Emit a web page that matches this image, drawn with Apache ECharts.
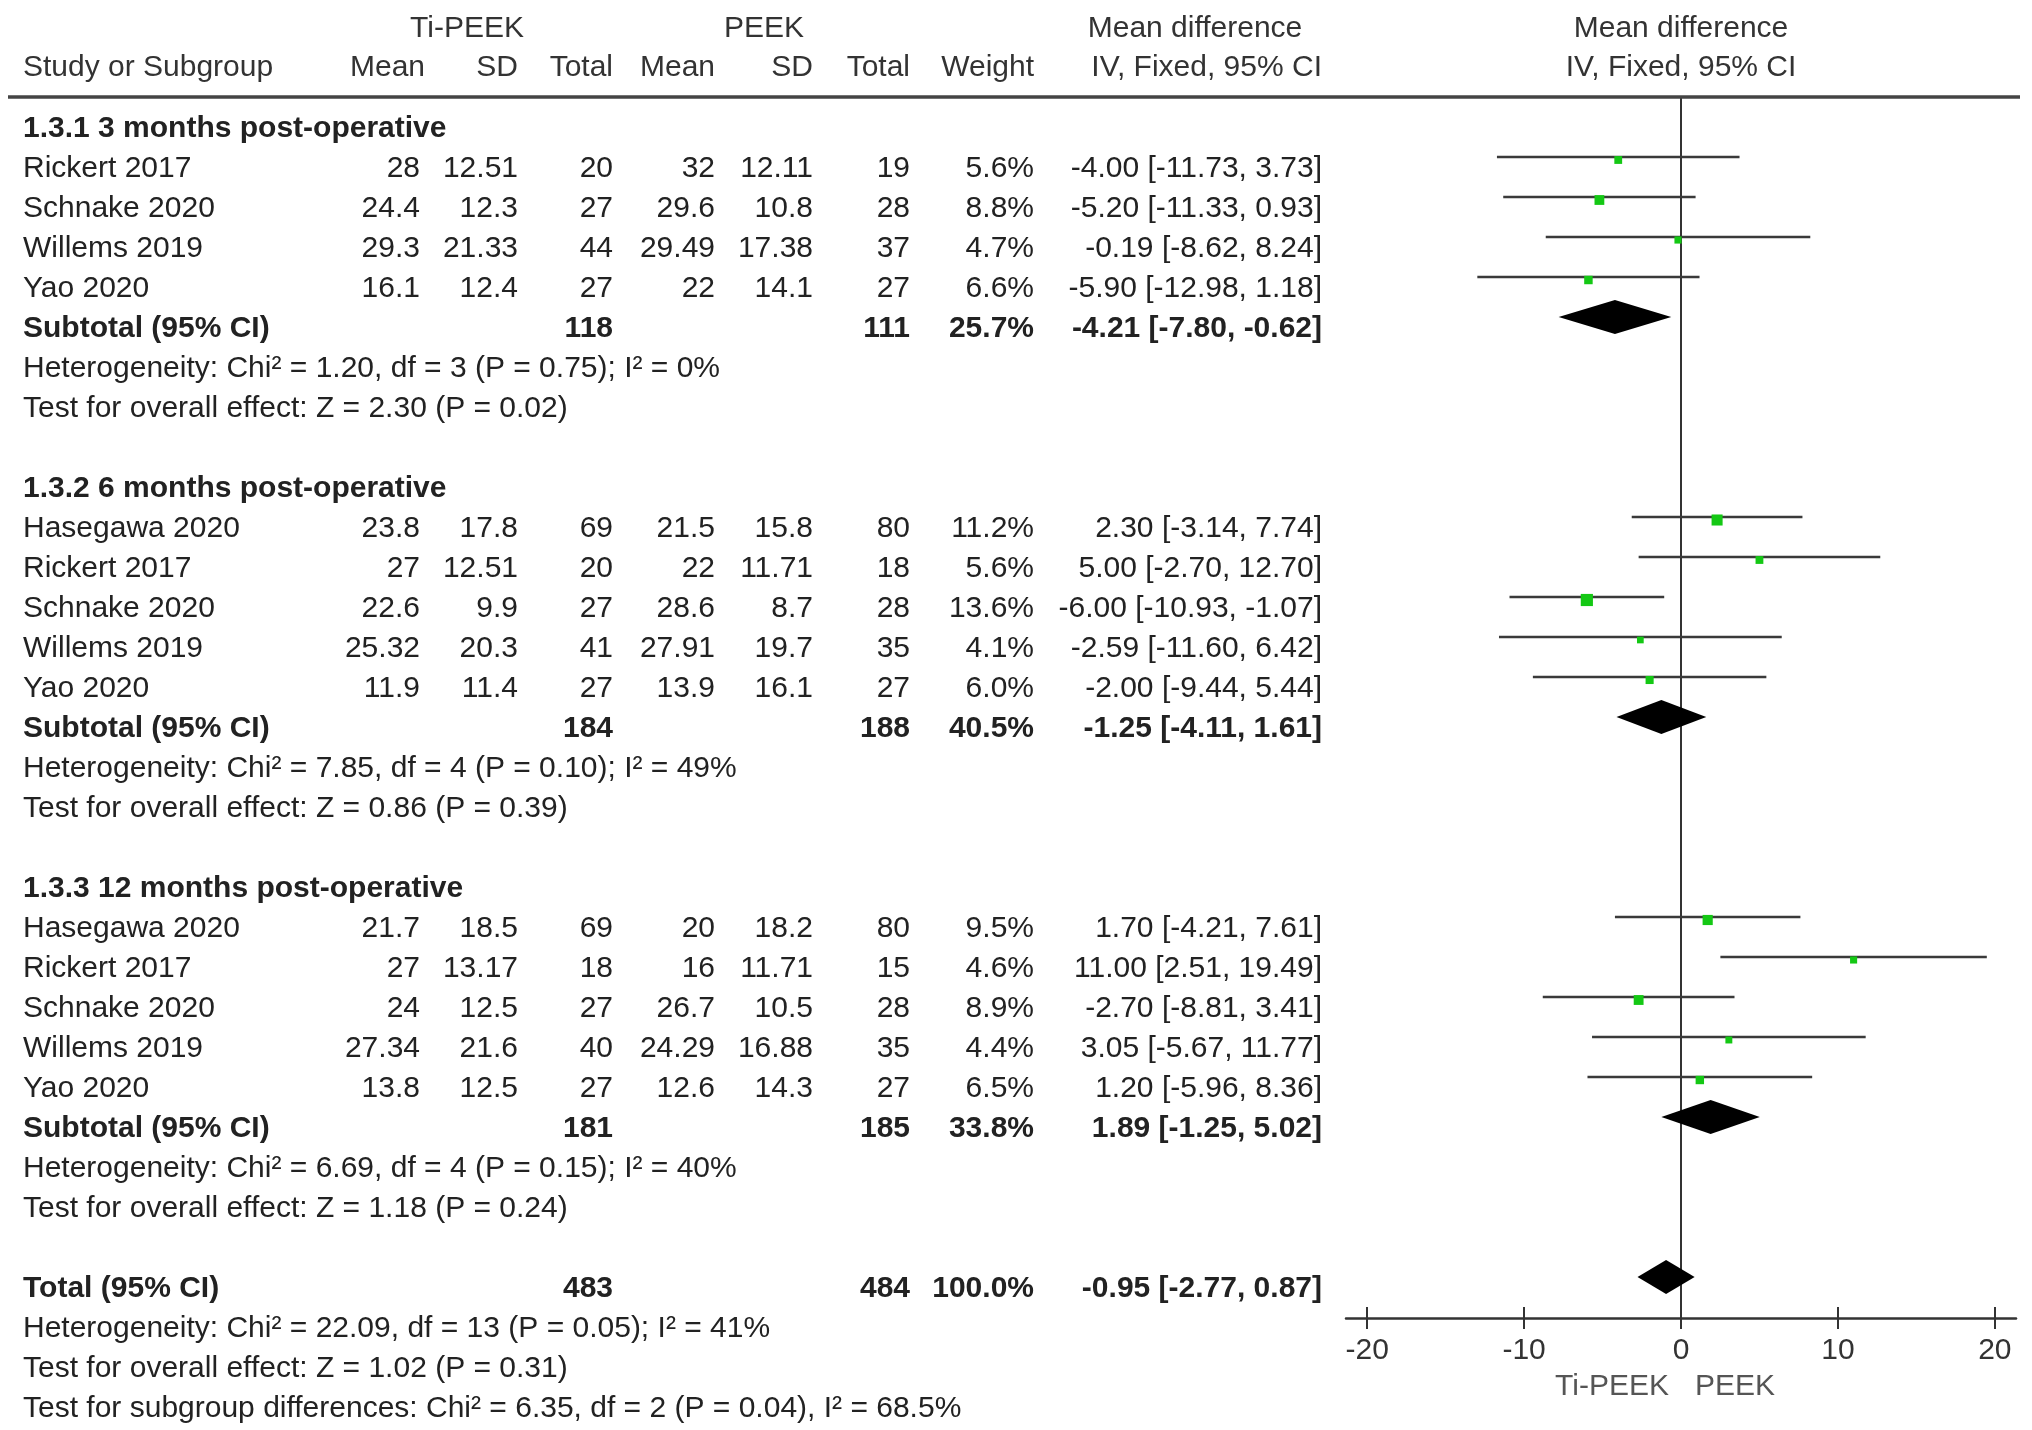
<!DOCTYPE html>
<html><head><meta charset="utf-8">
<script src="https://cdn.jsdelivr.net/npm/echarts@6/dist/echarts.min.js"></script>
<style>html,body{margin:0;padding:0;background:#fff}#c{width:2032px;height:1430px}</style>
</head><body><div id="c"></div>
<script>
// ---------------- DATA ----------------
const groupTitles = ['1.3.1 3 months post-operative', '1.3.2 6 months post-operative', '1.3.3 12 months post-operative'];
const studyGroup = [0,0,0,0, 1,1,1,1,1, 2,2,2,2,2];
const studyNames = ['Rickert 2017','Schnake 2020','Willems 2019','Yao 2020',
  'Hasegawa 2020','Rickert 2017','Schnake 2020','Willems 2019','Yao 2020',
  'Hasegawa 2020','Rickert 2017','Schnake 2020','Willems 2019','Yao 2020'];
const tiMean   = [28, 24.4, 29.3, 16.1,   23.8, 27, 22.6, 25.32, 11.9,   21.7, 27, 24, 27.34, 13.8];
const tiSD     = [12.51, 12.3, 21.33, 12.4, 17.8, 12.51, 9.9, 20.3, 11.4, 18.5, 13.17, 12.5, 21.6, 12.5];
const tiTotal  = [20, 27, 44, 27,  69, 20, 27, 41, 27,  69, 18, 27, 40, 27];
const peekMean = [32, 29.6, 29.49, 22,  21.5, 22, 28.6, 27.91, 13.9,  20, 16, 26.7, 24.29, 12.6];
const peekSD   = [12.11, 10.8, 17.38, 14.1, 15.8, 11.71, 8.7, 19.7, 16.1, 18.2, 11.71, 10.5, 16.88, 14.3];
const peekTotal= [19, 28, 37, 27,  80, 18, 28, 35, 27,  80, 15, 28, 35, 27];
const weight   = [5.6, 8.8, 4.7, 6.6,  11.2, 5.6, 13.6, 4.1, 6.0,  9.5, 4.6, 8.9, 4.4, 6.5];
const meanDiff = [-4.00, -5.20, -0.19, -5.90,  2.30, 5.00, -6.00, -2.59, -2.00,  1.70, 11.00, -2.70, 3.05, 1.20];
const ciLow    = [-11.73, -11.33, -8.62, -12.98,  -3.14, -2.70, -10.93, -11.60, -9.44,  -4.21, 2.51, -8.81, -5.67, -5.96];
const ciHigh   = [3.73, 0.93, 8.24, 1.18,  7.74, 12.70, -1.07, 6.42, 5.44,  7.61, 19.49, 3.41, 11.77, 8.36];

const subTiTotal   = [118, 184, 181];
const subPeekTotal = [111, 188, 185];
const subWeight    = [25.7, 40.5, 33.8];
const subMeanDiff  = [-4.21, -1.25, 1.89];
const subCiLow     = [-7.80, -4.11, -1.25];
const subCiHigh    = [-0.62, 1.61, 5.02];
const subHetText   = ['Heterogeneity: Chi\u00b2 = 1.20, df = 3 (P = 0.75); I\u00b2 = 0%',
                      'Heterogeneity: Chi\u00b2 = 7.85, df = 4 (P = 0.10); I\u00b2 = 49%',
                      'Heterogeneity: Chi\u00b2 = 6.69, df = 4 (P = 0.15); I\u00b2 = 40%'];
const subTestText  = ['Test for overall effect: Z = 2.30 (P = 0.02)',
                      'Test for overall effect: Z = 0.86 (P = 0.39)',
                      'Test for overall effect: Z = 1.18 (P = 0.24)'];

const totalTi = 483, totalPeek = 484, totalWeight = 100.0;
const totalMeanDiff = -0.95, totalCiLow = -2.77, totalCiHigh = 0.87;
const totalHetText = 'Heterogeneity: Chi\u00b2 = 22.09, df = 13 (P = 0.05); I\u00b2 = 41%';
const totalTestText = 'Test for overall effect: Z = 1.02 (P = 0.31)';
const subgroupText = 'Test for subgroup differences: Chi\u00b2 = 6.35, df = 2 (P = 0.04), I\u00b2 = 68.5%';

const xTicks = [-20, -10, 0, 10, 20];
const favourLeft = 'Ti-PEEK', favourRight = 'PEEK';

// ---------------- LAYOUT ----------------
const COL = { name: 23, tiMean: 420, tiSD: 518, tiTotal: 613, pMean: 715, pSD: 813, pTotal: 910, weight: 1034, ci: 1322,
  hTi: 467, hPeek: 764, hMD: 1195, hPlot: 1681, hTiMean: 425 };
const FS = 30;
const TXT = '#222';
const TEXT_DY = 0.075;
const texts = [];
const forest = [];
function T(x, line, text, align, bold, color, size) {
  texts.push({ x, line: line + TEXT_DY, text: String(text), align: align || 'right', bold: !!bold, color: color || TXT, size: size || FS });
}
const f2 = v => v.toFixed(2);
const ciStr = (m, l, h) => f2(m) + ' [' + f2(l) + ', ' + f2(h) + ']';

// headers
T(COL.hTi, -2.5, 'Ti-PEEK', 'center', false, '#333');
T(COL.hPeek, -2.5, 'PEEK', 'center', false, '#333');
T(COL.hMD, -2.5, 'Mean difference', 'center', false, '#333');
T(COL.hPlot, -2.5, 'Mean difference', 'center', false, '#333');
const H2 = -1.525;
T(COL.name, H2, 'Study or Subgroup', 'left', false, '#333');
T(COL.hTiMean, H2, 'Mean', 'right', false, '#333');
T(COL.tiSD, H2, 'SD', 'right', false, '#333');
T(COL.tiTotal, H2, 'Total', 'right', false, '#333');
T(COL.pMean, H2, 'Mean', 'right', false, '#333');
T(COL.pSD, H2, 'SD', 'right', false, '#333');
T(COL.pTotal, H2, 'Total', 'right', false, '#333');
T(COL.weight, H2, 'Weight', 'right', false, '#333');
T(COL.ci, H2, 'IV, Fixed, 95% CI', 'right', false, '#333');
T(COL.hPlot, H2, 'IV, Fixed, 95% CI', 'center', false, '#333');

let line = 0;
groupTitles.forEach((title, g) => {
  T(COL.name, line++, title, 'left', true);
  studyNames.forEach((nm, i) => {
    if (studyGroup[i] !== g) return;
    T(COL.name, line, nm, 'left');
    T(COL.tiMean, line, tiMean[i]);
    T(COL.tiSD, line, tiSD[i]);
    T(COL.tiTotal, line, tiTotal[i]);
    T(COL.pMean, line, peekMean[i]);
    T(COL.pSD, line, peekSD[i]);
    T(COL.pTotal, line, peekTotal[i]);
    T(COL.weight, line, weight[i].toFixed(1) + '%');
    T(COL.ci, line, ciStr(meanDiff[i], ciLow[i], ciHigh[i]));
    forest.push({ kind: 'study', line, md: meanDiff[i], lo: ciLow[i], hi: ciHigh[i], w: weight[i] });
    line++;
  });
  T(COL.name, line, 'Subtotal (95% CI)', 'left', true);
  T(COL.tiTotal, line, subTiTotal[g], 'right', true);
  T(COL.pTotal, line, subPeekTotal[g], 'right', true);
  T(COL.weight, line, subWeight[g].toFixed(1) + '%', 'right', true);
  T(COL.ci, line, ciStr(subMeanDiff[g], subCiLow[g], subCiHigh[g]), 'right', true);
  forest.push({ kind: 'diamond', line, md: subMeanDiff[g], lo: subCiLow[g], hi: subCiHigh[g] });
  line++;
  T(COL.name, line++, subHetText[g], 'left');
  T(COL.name, line++, subTestText[g], 'left');
  line++;
});
T(COL.name, line, 'Total (95% CI)', 'left', true);
T(COL.tiTotal, line, totalTi, 'right', true);
T(COL.pTotal, line, totalPeek, 'right', true);
T(COL.weight, line, totalWeight.toFixed(1) + '%', 'right', true);
T(COL.ci, line, ciStr(totalMeanDiff, totalCiLow, totalCiHigh), 'right', true);
forest.push({ kind: 'diamond', line, md: totalMeanDiff, lo: totalCiLow, hi: totalCiHigh });
line++;
T(COL.name, line++, totalHetText, 'left');
T(COL.name, line++, totalTestText, 'left');
T(COL.name, line, subgroupText, 'left');
T(1669, 31.45, favourLeft, 'right', false, '#555');
T(1695, 31.45, favourRight, 'left', false, '#555');

const FONT = '"Liberation Sans", Arial, Helvetica, sans-serif';
const PLOT_DY = -0.225, SQ_DY = -0.15;

const chart = echarts.init(document.getElementById('c'), null, { renderer: 'canvas' });
chart.setOption({
  backgroundColor: '#fff',
  animation: false,
  grid: [
    { left: 0, top: 0, width: 2032, height: 1430 },
    { left: 1346, top: 97, width: 670, height: 1221 }
  ],
  xAxis: [
    { gridIndex: 0, type: 'value', min: 0, max: 2032, show: false },
    { gridIndex: 1, type: 'value', min: -21.35, max: 21.35, position: 'bottom',
      axisLine: { show: true, onZero: false, lineStyle: { color: '#333', width: 2.5 } },
      axisTick: { show: true, customValues: xTicks, length: 11, lineStyle: { color: '#333', width: 2 } },
      axisLabel: { show: true, customValues: xTicks, margin: 18, fontSize: FS, color: '#333', fontFamily: FONT },
      splitLine: { show: false } },
    { gridIndex: 1, type: 'value', min: -21.35, max: 21.35, position: 'bottom',
      axisLine: { show: false, onZero: false },
      axisTick: { show: true, inside: true, customValues: xTicks, length: 11, lineStyle: { color: '#333', width: 2 } },
      axisLabel: { show: false }, splitLine: { show: false } }
  ],
  yAxis: [
    { gridIndex: 0, type: 'value', min: -3.15, max: 32.6, inverse: true, show: false },
    { gridIndex: 1, type: 'value', min: -0.725, max: 29.8, inverse: true,
      axisLine: { show: true, onZero: true, lineStyle: { color: '#333', width: 2 } },
      axisTick: { show: false }, axisLabel: { show: false }, splitLine: { show: false } }
  ],
  graphic: [
    { type: 'line', shape: { x1: 8, y1: 97, x2: 2020, y2: 97 }, style: { stroke: '#444', lineWidth: 3.5 }, z: 10 }
  ],
  series: [
    { type: 'custom', xAxisIndex: 0, yAxisIndex: 0, clip: false, silent: true,
      data: texts.map(d => [d.x, d.line]),
      renderItem: (params, api) => {
        const d = texts[params.dataIndex];
        const p = api.coord([d.x, d.line]);
        return { type: 'text', x: p[0], y: p[1], style: { text: d.text, fill: d.color, fontSize: d.size,
          fontFamily: FONT, fontWeight: d.bold ? 'bold' : 'normal', align: d.align, verticalAlign: 'middle' } };
      } },
    { type: 'custom', xAxisIndex: 1, yAxisIndex: 1, clip: false, silent: true,
      data: forest.map(d => [d.md, d.line]),
      renderItem: (params, api) => {
        const d = forest[params.dataIndex];
        const y = d.line + PLOT_DY;
        if (d.kind === 'study') {
          const a = api.coord([d.lo, y]), b = api.coord([d.hi, y]);
          const c = api.coord([d.md, d.line + SQ_DY]);
          const s = 3.3 * Math.sqrt(d.w);
          return { type: 'group', children: [
            { type: 'line', shape: { x1: a[0], y1: a[1], x2: b[0], y2: b[1] }, style: { stroke: '#3a3a3a', lineWidth: 2.5 } },
            { type: 'rect', shape: { x: c[0] - s / 2, y: c[1] - s / 2, width: s, height: s }, style: { fill: '#14c814' } }
          ] };
        }
        const l = api.coord([d.lo, y]), r = api.coord([d.hi, y]), m = api.coord([d.md, y]);
        return { type: 'polygon', shape: { points: [l, [m[0], m[1] - 17], r, [m[0], m[1] + 17]] }, style: { fill: '#000' } };
      } }
  ]
});
</script></body></html>
